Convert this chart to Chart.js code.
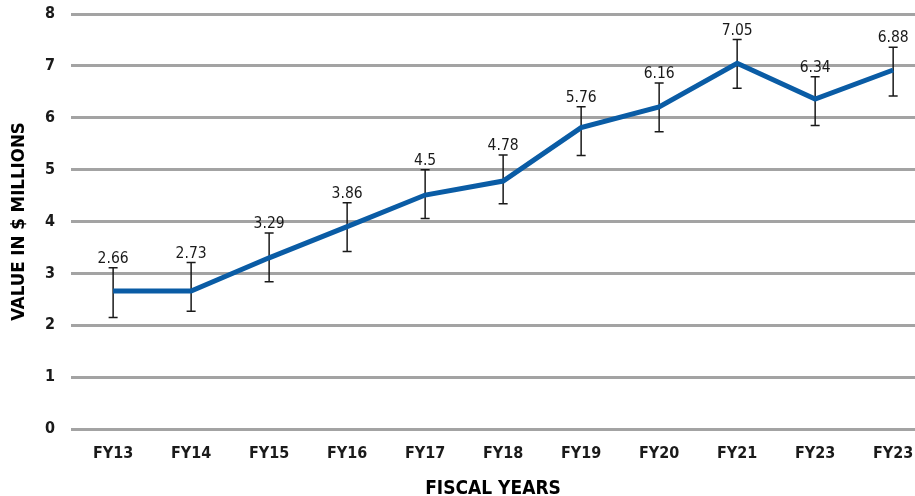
<!DOCTYPE html>
<html>
<head>
<meta charset="utf-8">
<script src="https://cdn.jsdelivr.net/npm/chart.js@4.4.1/dist/chart.umd.min.js"></script>
<style>
  html, body { margin: 0; padding: 0; background: #fff; overflow: hidden; }
  #wrap { width: 915px; height: 496px; }
</style>
</head>
<body>
<div id="wrap"><canvas id="valueChart"></canvas></div>
<script>
const years = ['FY13', 'FY14', 'FY15', 'FY16', 'FY17', 'FY18', 'FY19', 'FY20', 'FY21', 'FY23', 'FY23'];
const values = [2.66, 2.66, 3.30, 3.90, 4.51, 4.78, 5.81, 6.21, 7.05, 6.36, 6.92];
const pointLabels = ['2.66', '2.73', '3.29', '3.86', '4.5', '4.78', '5.76', '6.16', '7.05', '6.34', '6.88'];
const errHigh = [3.11, 3.21, 3.78, 4.36, 5.00, 5.28, 6.21, 6.67, 7.51, 6.79, 7.36];
const errLow = [2.15, 2.27, 2.84, 3.42, 4.06, 4.34, 5.27, 5.73, 6.57, 5.85, 6.42];
const yTicks = [0, 1, 2, 3, 4, 5, 6, 7, 8];

const fontFamily = '"Liberation Sans Narrow", "DejaVu Sans Condensed", "Roboto Condensed", sans-serif';

// error bars go under the line, value labels on top
const errorBars = {
    id: 'errorBars',
    beforeDatasetsDraw(chart) {
        const ctx = chart.ctx;
        const x = chart.scales.x;
        const y = chart.scales.y;
        ctx.save();
        ctx.strokeStyle = '#1a1a1a';
        ctx.lineWidth = 1.5;
        years.forEach((_, i) => {
            const px = x.getPixelForValue(i);
            const top = y.getPixelForValue(errHigh[i]);
            const bot = y.getPixelForValue(errLow[i]);
            ctx.beginPath();
            ctx.moveTo(px, top);
            ctx.lineTo(px, bot);
            ctx.moveTo(px - 4.5, top);
            ctx.lineTo(px + 4.5, top);
            ctx.moveTo(px - 4.5, bot);
            ctx.lineTo(px + 4.5, bot);
            ctx.stroke();
        });
        ctx.restore();
    },
    afterDatasetsDraw(chart) {
        const ctx = chart.ctx;
        const x = chart.scales.x;
        const y = chart.scales.y;
        ctx.save();
        ctx.fillStyle = '#1a1a1a';
        ctx.font = '15.5px ' + fontFamily;
        ctx.textAlign = 'center';
        ctx.textBaseline = 'bottom';
        pointLabels.forEach((txt, i) => {
            ctx.fillText(txt, x.getPixelForValue(i), y.getPixelForValue(errHigh[i]) - 1);
        });
        ctx.restore();
    }
};

const ctx = document.getElementById('valueChart').getContext('2d');

const chart = new Chart(ctx, {
    type: 'line',
    data: {
        datasets: [{
            data: values.map((v, i) => ({ x: i, y: v })),
            borderColor: '#0a5ca5',
            borderWidth: 5,
            pointRadius: 0,
            tension: 0,
            fill: false
        }]
    },
    options: {
        responsive: true,
        maintainAspectRatio: false,
        animation: false,
        layout: { padding: { top: 14, right: 0, bottom: 0, left: 0 } },
        plugins: {
            legend: { display: false },
            tooltip: { enabled: false }
        },
        scales: {
            x: {
                type: 'linear',
                min: -0.54,
                max: 10.28,
                grid: {
                    display: true,
                    drawOnChartArea: false,
                    drawTicks: true,
                    tickLength: 15,
                    color: 'rgba(0,0,0,0)',
                    tickColor: 'rgba(0,0,0,0)'
                },
                border: { display: false },
                ticks: {
                    stepSize: 1,
                    includeBounds: false,
                    autoSkip: false,
                    maxRotation: 0,
                    padding: 0,
                    color: '#1a1a1a',
                    font: { family: fontFamily, size: 16, weight: 'bold' },
                    callback: (v) => Number.isInteger(v) ? years[v] : ''
                },
                title: {
                    display: true,
                    text: 'FISCAL YEARS',
                    color: '#000',
                    padding: { top: 4, bottom: -4 },
                    font: { family: fontFamily, size: 19, weight: 'bold' }
                },
                afterFit(scale) { scale.height = 67; }
            },
            y: {
                min: 0,
                max: 8,
                grid: {
                    color: '#a3a3a3',
                    lineWidth: 3,
                    drawTicks: true,
                    tickLength: 13,
                    tickColor: 'rgba(0,0,0,0)'
                },
                border: { display: false },
                afterBuildTicks(scale) { scale.ticks = yTicks.map(v => ({ value: v })); },
                ticks: {
                    padding: 3,
                    color: '#1a1a1a',
                    font: { family: fontFamily, size: 16, weight: 'bold' }
                },
                title: {
                    display: true,
                    text: 'VALUE IN $ MILLIONS',
                    color: '#000',
                    padding: { top: 8, bottom: 0 },
                    font: { family: fontFamily, size: 18.5, weight: 'bold' }
                },
                afterFit(scale) { scale.width = 71; }
            }
        }
    },
    plugins: [errorBars]
});
</script>
</body>
</html>
